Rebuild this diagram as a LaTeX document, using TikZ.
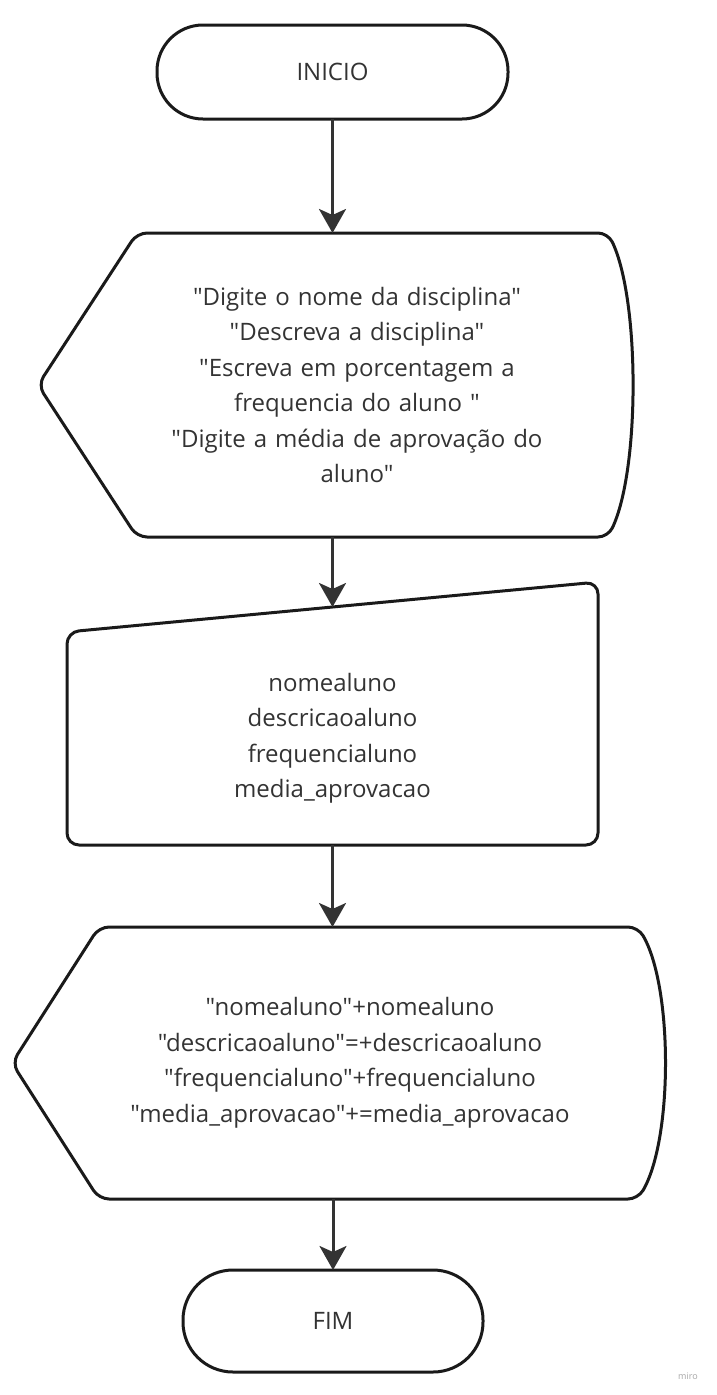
\documentclass[tikz,border=0pt]{standalone}
\usepackage{fontspec}
\setmainfont{Open Sans}[Ligatures=TeXOff]
\usepackage{tikz}
\usetikzlibrary{arrows.meta,positioning,calc}
\definecolor{inkgray}{HTML}{333333}
\definecolor{edgeblack}{HTML}{1A1A1A}

\begin{document}
\begin{tikzpicture}[>={Stealth[length=24pt,width=27pt,inset=6pt]}, x=1pt, y=1pt, line width=3pt, text=inkgray,
                    font=\fontsize{24}{35.5}\selectfont]
        \tikzset{
           terminal/.style={
                        rectangle,
                        rounded corners=46pt,
                        draw=edgeblack,
                        outer sep=0pt,
                        minimum width=351pt,
                        minimum height=94pt
                       },
           saida/.style={
                        rectangle,
                        draw=none,
                        inner sep=0pt,
                        outer sep=0pt,
                        align=center
                       },
           entrada/.style={
                        rectangle,
                        draw=none,
                        inner sep=0pt,
                        outer sep=0pt,
                        align=center
                       },
           outline/.style={
                        draw=edgeblack,
                        rounded corners=10pt
                       },
           flow/.style={
                        ->,
                        color=inkgray
                       },
           watermark/.style={
                        text=black!35,
                        font=\fontsize{9}{11}\selectfont
                       },
                 };
        \useasboundingbox (0,0) rectangle (716,-1395);
    %--------------------
        \node[terminal] (inicio)  at (332.5,-72) {INICIO};

        \node[saida]    (saida1)  [below=114pt of inicio, xshift=24.5pt, text width=440pt, minimum height=304pt]
              {"Digite o nome da disciplina"\\ "Descreva a disciplina"\\ "Escreva em porcentagem a\\
               frequencia do aluno "\\ "Digite a média de aprovação do\\ aluno"};

        \node[entrada]  (entrada) [below=95pt of saida1, xshift=-24.5pt, text width=531pt, minimum height=213pt]
              {nomealuno\\ descricaoaluno\\ frequencialuno\\ media\_aprovacao};

        \node[saida]    (saida2)  [below=82pt of entrada, xshift=17.5pt, text width=502pt, minimum height=272pt]
              {"nomealuno"+nomealuno\\ "descricaoaluno"=+descricaoaluno\\ "frequencialuno"+frequencialuno\\
               "media\_aprovacao"+=media\_aprovacao};

        \node[terminal] (fim)     [below=71pt of saida2, xshift=-17pt, minimum width=300pt, minimum height=102pt,
                                   rounded corners=50pt] {FIM};

        \node[watermark] (miro)   at (688,-1376) {miro};
    %--------------------
        \draw[outline] ($(saida1.west)+(-99,0)$) -- (saida1.north west) -- ($(saida1.north east)+(31,0)$)
              .. controls ($(saida1.north east)+(63,-67)$) and ($(saida1.south east)+(63,67)$) .. ($(saida1.south east)+(31,0)$)
              -- (saida1.south west) -- cycle;

        \draw[outline, rounded corners=12pt] (entrada.south west) -- (entrada.north west)
              -- ($(entrada.north east)+(0,50)$) -- (entrada.south east) -- cycle;
        \coordinate (entradaTop) at ($(entrada.north west)!0.5!(entrada.north east)+(0,25)$);

        \draw[outline] ($(saida2.west)+(-87,0)$) -- (saida2.north west) -- ($(saida2.north east)+(37,0)$)
              .. controls ($(saida2.north east)+(72,-60)$) and ($(saida2.south east)+(72,60)$) .. ($(saida2.south east)+(37,0)$)
              -- (saida2.south west) -- cycle;
    %--------------------
        \path[flow] (inicio.south)            edge (inicio.south |- saida1.north)
                    (saida1.south -| inicio)  edge (entradaTop)
                    (entrada.south)           edge (entrada.south |- saida2.north)
                    (saida2.south -| fim)     edge (fim.north);
\end{tikzpicture}
\end{document}
